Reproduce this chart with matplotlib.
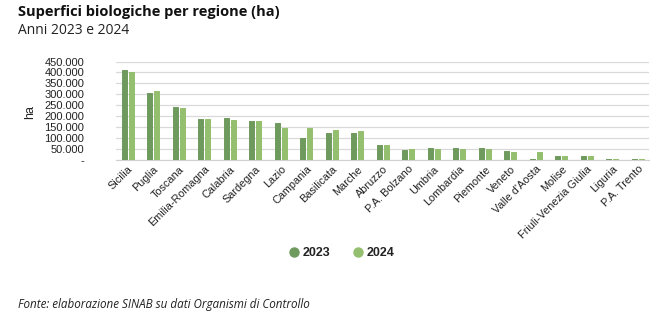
import matplotlib
matplotlib.use("Agg")
import matplotlib.pyplot as plt
import numpy as np
from matplotlib.lines import Line2D

regioni = ["Sicilia", "Puglia", "Toscana", "Emilia-Romagna", "Calabria", "Sardegna",
           "Lazio", "Campania", "Basilicata", "Marche", "Abruzzo", "P.A. Bolzano",
           "Umbria", "Lombardia", "Piemonte", "Veneto", "Valle d'Aosta", "Molise",
           "Friuli-Venezia Giulia", "Liguria", "P.A. Trento"]
ha_2023 = [412000, 308000, 243000, 187000, 193000, 176000, 168000, 102000, 125000,
           125000, 67000, 45000, 53000, 53000, 53000, 42000, 5000, 17000, 17000, 5000, 5000]
ha_2024 = [400000, 313000, 237000, 187000, 182000, 178000, 145000, 145000, 137000,
           130000, 66000, 52000, 52000, 48000, 48000, 36000, 36000, 17000, 17000, 5000, 5000]
anni = ["2023", "2024"]
yticks = [0, 50000, 100000, 150000, 200000, 250000, 300000, 350000, 400000, 450000]

col_2023 = "#6f9a5e"
col_2024 = "#94bf6f"

fig = plt.figure(figsize=(6.64, 3.29), dpi=100)
ax = fig.add_axes([0.175, 0.514, 0.803, 0.299])

x = np.arange(len(regioni))
w = 0.2
off = 0.138
ax.bar(x - off, ha_2023, width=w, color=col_2023, edgecolor=col_2023,
       linewidth=0.7, joinstyle="round", zorder=3)
ax.bar(x + off, ha_2024, width=w, color=col_2024, edgecolor=col_2024,
       linewidth=0.7, joinstyle="round", zorder=3)

ax.set_ylim(0, 450000)
ax.set_xlim(-0.45, len(regioni) - 0.55)
ax.set_yticks(yticks)
ax.set_yticklabels(["-" if v == 0 else f"{v:,}".replace(",", ".") for v in yticks],
                   fontsize=8, family="Liberation Sans", color="#222222")
ax.yaxis.grid(True, color="#d9d9d9", linewidth=0.9, zorder=0)
ax.set_axisbelow(True)
for s in ["top", "right", "left"]:
    ax.spines[s].set_visible(False)
ax.spines["bottom"].set_color("#d0d0d0")
ax.tick_params(axis="both", length=0)
ax.tick_params(axis="y", pad=23)
for lbl in ax.get_yticklabels():
    lbl.set_horizontalalignment("right")

ax.set_xticks(x)
ax.set_xticklabels(regioni, rotation=45, ha="right", rotation_mode="anchor",
                   fontsize=7.8, family="Liberation Sans", color="#222222")
ax.tick_params(axis="x", pad=3)

fig.text(0.045, 0.66, "ha", rotation=90, fontsize=9, family="Liberation Sans",
         va="center", ha="center", color="#222222")

fig.text(0.027, 0.985, "Superfici biologiche per regione (ha)", fontsize=10.5,
         fontweight="bold", family="Open Sans", va="top", color="#111111")
fig.text(0.027, 0.93, "Anni 2023 e 2024", fontsize=10, family="Open Sans",
         va="top", color="#222222")
fig.text(0.027, 0.075, "Fonte: elaborazione SINAB su dati Organismi di Controllo",
         fontsize=8.4, style="italic", family="Open Sans", va="center", color="#222222")

handles = [Line2D([0], [0], marker="o", color="none", markerfacecolor=c,
                  markeredgecolor=c, markersize=6.5) for c in (col_2023, col_2024)]
leg = fig.legend(handles, anni, loc="center", bbox_to_anchor=(0.513, 0.231), ncol=2,
                 frameon=False, handletextpad=0.1, columnspacing=1.6,
                 handlelength=1.2,
                 prop={"family": "Liberation Sans", "weight": "bold", "size": 9})
for t in leg.get_texts():
    t.set_color("#222222")

fig.savefig("out.png", dpi=100)
